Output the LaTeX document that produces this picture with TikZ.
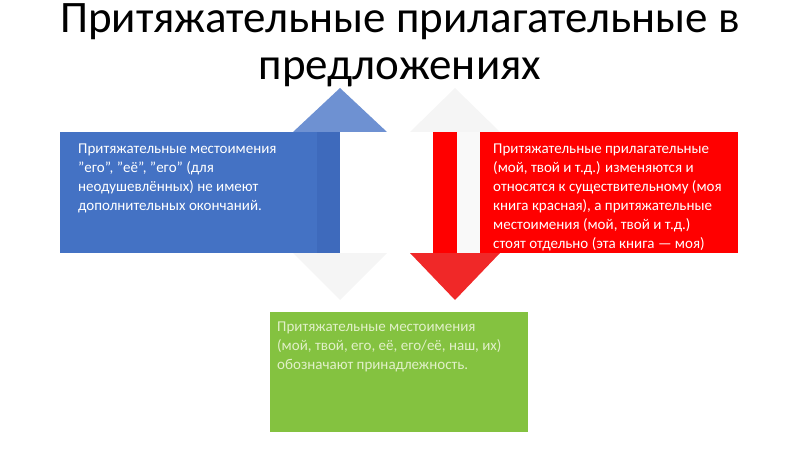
\documentclass[tikz,border=0pt]{standalone}
\usepackage{fontspec}
\setmainfont{Carlito}
\definecolor{boxblue}{RGB}{68,114,196}
\definecolor{shaftblue}{RGB}{62,106,188}
\definecolor{headblue}{RGB}{110,145,210}
\definecolor{headred}{RGB}{240,40,40}
\definecolor{boxgreen}{RGB}{132,194,64}
\definecolor{textgreen}{RGB}{225,240,200}
\begin{document}
\begin{tikzpicture}[x=1pt,y=-1pt,
  boxtext/.style={anchor=north west, text=white, font=\fontsize{15}{19}\selectfont, align=left, inner sep=0pt},
  titletext/.style={font=\fontsize{45}{50}\selectfont, inner sep=0pt},
  faint/.style={fill=gray!8, draw=none}]
\useasboundingbox (0,0) rectangle (800,449);

% faint arrow heads
\fill[faint] (410,132) -- (455,88) -- (500,132) -- cycle;
\fill[faint] (293,253) -- (340,300) -- (387,253) -- cycle;
\fill[gray!5] (457,132) rectangle (480,253);

% blue box and arrow
\fill[boxblue] (60,132) rectangle (340,253);
\fill[shaftblue] (317,132) rectangle (340,253);
\fill[headblue] (293,132) -- (340,88) -- (387,132) -- cycle;

% red box and arrow
\fill[red] (480,132) rectangle (738,253);
\fill[red] (433,132) rectangle (457,253);
\fill[headred] (410,253) -- (455,300) -- (500,253) -- cycle;

% green box
\fill[boxgreen] (270,312) rectangle (528,432);

\node[titletext] (title1) at (400,22) {Притяжательные прилагательные в};
\node[titletext] (title2) at (400,72) {предложениях};

\node[boxtext] (blue) at (78,144) {Притяжательные местоимения\\"его", "её", "его" (для\\неодушевлённых) не имеют\\дополнительных окончаний.};
\node[boxtext] (red) at (493,144) {Притяжательные прилагательные\\(мой, твой и т.д.) изменяются и\\относятся к существительному (моя\\книга красная), а притяжательные\\местоимения (мой, твой и т.д.)\\стоят отдельно (эта книга — моя)};
\node[boxtext, text=textgreen] (green) at (277,322) {Притяжательные местоимения\\(мой, твой, его, её, его/её, наш, их)\\обозначают принадлежность.};
\end{tikzpicture}
\end{document}
